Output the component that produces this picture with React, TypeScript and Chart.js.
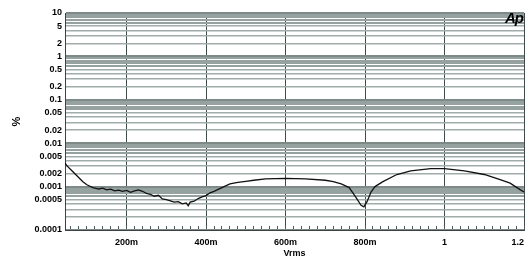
import React, { useEffect, useRef } from "react";
import { Chart, registerables } from "chart.js";

Chart.register(...registerables);

// Input level (Vrms)
const voltage = [
  0.045, 0.05, 0.065, 0.08, 0.09, 0.1, 0.115, 0.13, 0.14, 0.15, 0.16, 0.17, 0.18, 0.19, 0.2,
  0.21, 0.22, 0.23, 0.24, 0.25, 0.26, 0.27, 0.28, 0.29, 0.3, 0.31, 0.32, 0.33, 0.34, 0.35,
  0.355, 0.36, 0.37, 0.38, 0.39, 0.4, 0.41, 0.42, 0.44, 0.46, 0.48, 0.5, 0.52, 0.55, 0.6,
  0.65, 0.7, 0.72, 0.74, 0.76, 0.775, 0.79, 0.797, 0.805, 0.815, 0.825, 0.845, 0.88, 0.915,
  0.965, 1.0, 1.05, 1.1, 1.14, 1.165, 1.19, 1.2,
];
// THD+N (%)
const thdn = [
  0.0035, 0.003, 0.0022, 0.0016, 0.0013, 0.0011, 0.00095, 0.00088, 0.00092, 0.00084, 0.00087,
  0.0008, 0.00083, 0.00078, 0.00082, 0.00074, 0.0008, 0.00084, 0.00078, 0.0007, 0.00066,
  0.0006, 0.00063, 0.00052, 0.0005, 0.00047, 0.00044, 0.00045, 0.0004, 0.00042, 0.00036,
  0.00044, 0.00046, 0.00053, 0.00058, 0.00062, 0.00072, 0.00078, 0.00095, 0.00115, 0.00125,
  0.00132, 0.0014, 0.0015, 0.00155, 0.0015, 0.0014, 0.0013, 0.00115, 0.00095, 0.0006,
  0.00037, 0.00034, 0.00045, 0.00075, 0.001, 0.0013, 0.0019, 0.0023, 0.0026, 0.0026, 0.0023,
  0.0019, 0.00145, 0.0012, 0.00085, 0.00075,
];

const yLabelValues = [10, 5, 2, 1, 0.5, 0.2, 0.1, 0.05, 0.02, 0.01, 0.005, 0.002, 0.001, 0.0005, 0.0001];
const yLabelTexts = ["10", "5", "2", "1", "0.5", "0.2", "0.1", "0.05", "0.02", "0.01", "0.005", "0.002", "0.001", "0.0005", "0.0001"];
const xMajorValues = [0.2, 0.4, 0.6, 0.8, 1.0, 1.2];
const xMajorTexts = ["200m", "400m", "600m", "800m", "1", "1.2"];

const near = (a: number, b: number) => Math.abs(a - b) <= Math.abs(b) * 1e-6 + 1e-12;
const mantissa = (v: number) => {
  const e = Math.floor(Math.log10(v) + 1e-9);
  return Math.round(v / Math.pow(10, e));
};

export default function App() {
  const ref = useRef<HTMLCanvasElement | null>(null);

  useEffect(() => {
    if (!ref.current) return;
    const tickFont = { family: "'Liberation Sans', Arial, sans-serif", size: 9, weight: "bold" as const };
    const chart = new Chart(ref.current, {
      type: "line",
      data: {
        labels: voltage,
        datasets: [
          {
            data: voltage.map((v, i) => ({ x: v, y: thdn[i] })),
            borderColor: "#111",
            borderWidth: 1.3,
            pointRadius: 0,
            tension: 0,
            fill: false,
          },
        ],
      },
      options: {
        responsive: false,
        animation: false,
        layout: { padding: { top: 13, right: 4, left: 0, bottom: 0 } },
        plugins: { legend: { display: false }, tooltip: { enabled: false } },
        scales: {
          x: {
            type: "linear",
            min: 0.045,
            max: 1.2,
            afterBuildTicks: (scale: any) => {
              const t: any[] = [];
              for (let k = 3; k <= 60; k++) t.push({ value: Math.round(k * 2) / 100 });
              scale.ticks = t;
            },
            afterFit: (scale: any) => {
              scale.height = 30;
              scale.paddingLeft = 0;
              scale.paddingRight = 0;
            },
            grid: {
              color: (ctx: any) =>
                ctx.tick && xMajorValues.some((m) => near(ctx.tick.value, m)) ? "rgb(65,75,75)" : "rgba(0,0,0,0)",
              lineWidth: 1,
              tickLength: -4,
              tickColor: "rgb(80,90,90)",
            },
            border: { display: true, color: "rgb(60,65,65)", width: 1 },
            ticks: {
              autoSkip: false,
              maxRotation: 0,
              padding: 11,
              align: "inner",
              color: "#000",
              font: tickFont,
              callback: (value: any) => {
                const i = xMajorValues.findIndex((m) => near(Number(value), m));
                return i >= 0 ? xMajorTexts[i] : "";
              },
            },
            title: {
              display: true,
              text: "Vrms",
              color: "#000",
              font: { family: "'Liberation Sans', Arial, sans-serif", size: 9, weight: "bold" },
              padding: { top: 0, bottom: 1 },
            },
          },
          y: {
            type: "logarithmic",
            min: 0.0001,
            max: 10,
            afterBuildTicks: (scale: any) => {
              const t: any[] = [];
              for (let e = -4; e <= 0; e++) {
                for (let m = 1; m <= 9; m++) t.push({ value: Number((m * Math.pow(10, e)).toPrecision(3)) });
              }
              t.push({ value: 10 });
              scale.ticks = t;
            },
            afterFit: (scale: any) => {
              scale.width = 65;
            },
            grid: {
              color: (ctx: any) => {
                const m = ctx.tick ? mantissa(ctx.tick.value) : 1;
                if (m === 1) return "rgb(125,138,136)";
                if (m >= 6) return "rgb(150,162,160)";
                return "rgb(160,172,170)";
              },
              lineWidth: (ctx: any) => {
                const m = ctx.tick ? mantissa(ctx.tick.value) : 1;
                if (m === 1) return 2;
                if (m >= 6) return 2;
                return 1.5;
              },
              drawTicks: false,
            },
            border: { display: true, color: "rgb(60,65,65)", width: 1 },
            ticks: {
              autoSkip: false,
              padding: 3,
              color: "#000",
              font: tickFont,
              callback: (value: any) => {
                const i = yLabelValues.findIndex((m) => near(Number(value), m));
                return i >= 0 ? yLabelTexts[i] : "";
              },
            },
            title: {
              display: true,
              text: "%",
              color: "#000",
              font: { family: "'Liberation Sans', Arial, sans-serif", size: 11, weight: "bold" },
              padding: { top: 10, bottom: 0 },
            },
          },
        },
      },
    });
    return () => chart.destroy();
  }, []);

  return (
    <div style={{ position: "absolute", left: 0, top: 0, width: 528, height: 260, background: "#fff" }}>
      <canvas ref={ref} width={528} height={260} style={{ display: "block", position: "absolute", left: 0, top: 0 }} />
      <div
        style={{
          position: "absolute",
          left: 505,
          top: 9,
          fontFamily: "'Liberation Sans', Arial, sans-serif",
          fontWeight: "bold",
          fontStyle: "italic",
          fontSize: 15,
          letterSpacing: -1,
          color: "#000",
        }}
      >
        Ap
      </div>
    </div>
  );
}
